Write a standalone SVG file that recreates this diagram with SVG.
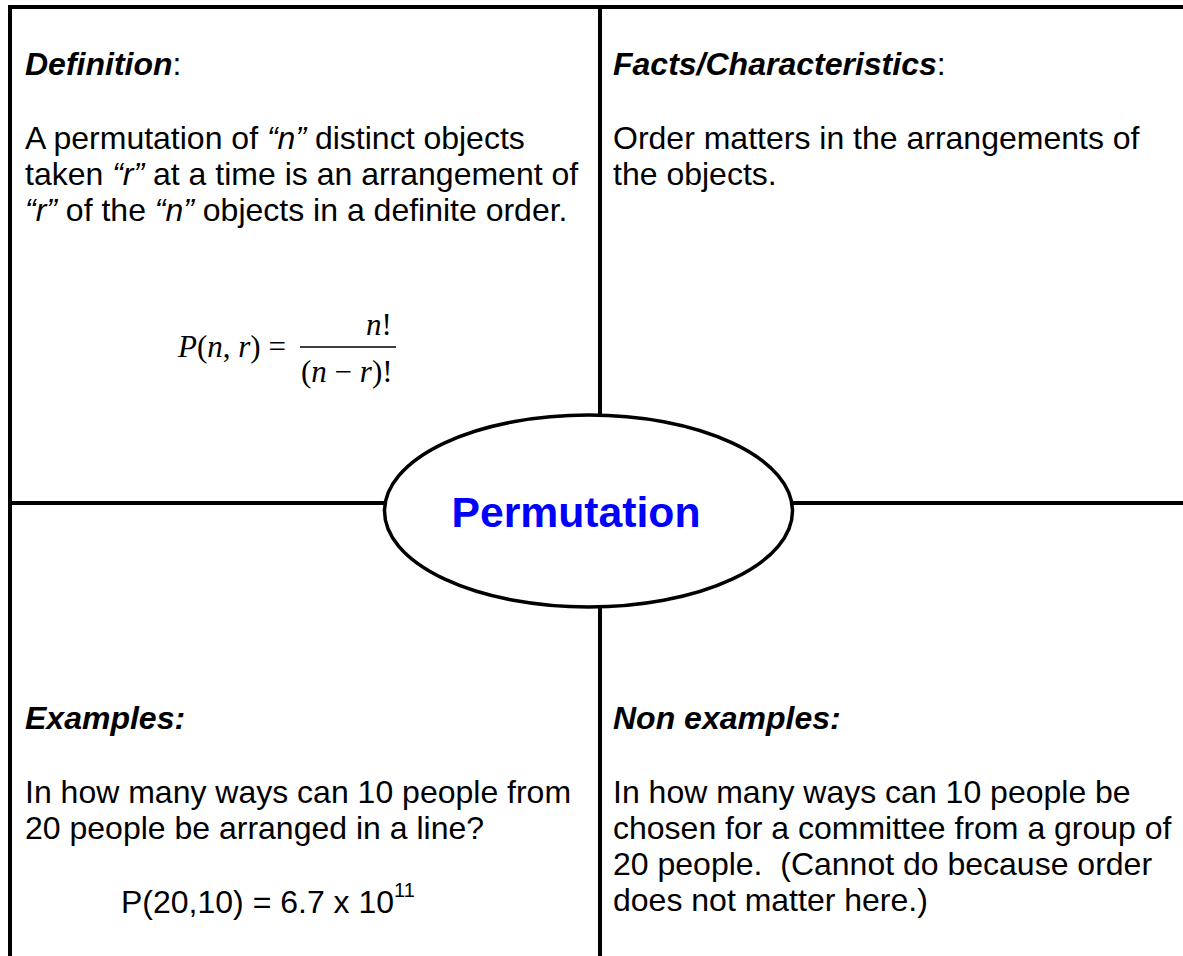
<svg xmlns="http://www.w3.org/2000/svg" width="1183" height="956" viewBox="0 0 1183 956">
  <style>
    .ln { stroke: #000; stroke-width: 4; fill: none; }
    .t { font-family: "Liberation Sans", Arial, sans-serif; font-size: 32px; fill: #000; }
    .h { font-weight: bold; font-style: italic; }
    .i { font-style: italic; }
    .m { font-family: "Liberation Serif", "Times New Roman", serif; font-size: 31px; fill: #000; }
  </style>
  <rect width="1183" height="956" fill="#fff"/>
  <g id="connectors">
    <line class="ln" x1="8" y1="7" x2="1183" y2="7"/>
    <line class="ln" x1="10" y1="5" x2="10" y2="956"/>
    <line class="ln" x1="600" y1="7" x2="600" y2="416"/>
    <line class="ln" x1="600" y1="606" x2="600" y2="956"/>
    <line class="ln" x1="10" y1="503" x2="386" y2="503"/>
    <line class="ln" x1="791" y1="503" x2="1183" y2="503"/>
  </g>
  <g id="definition">
    <text class="t" x="25" y="75"><tspan class="h">Definition</tspan>:</text>
    <text class="t" x="25" y="149">A permutation of <tspan class="i">“n”</tspan> distinct objects</text>
    <text class="t" x="25" y="185">taken <tspan class="i">“r”</tspan> at a time is an arrangement of</text>
    <text class="t" x="25" y="221"><tspan class="i">“r”</tspan> of the <tspan class="i">“n”</tspan> objects in a definite order.</text>
    <text class="m" x="178" y="357"><tspan class="i">P</tspan>(<tspan class="i">n</tspan>, <tspan class="i">r</tspan>) =</text>
    <text class="m" x="366" y="335"><tspan class="i">n</tspan>!</text>
    <line x1="300" y1="347" x2="396" y2="347" stroke="#000" stroke-width="1.5"/>
    <text class="m" x="301" y="382">(<tspan class="i">n</tspan> − <tspan class="i">r</tspan>)!</text>
  </g>
  <g id="facts">
    <text class="t" x="613" y="75"><tspan class="h">Facts/Characteristics</tspan>:</text>
    <text class="t" x="613" y="149">Order matters in the arrangements of</text>
    <text class="t" x="613" y="185">the objects.</text>
  </g>
  <g id="center">
    <ellipse cx="588.5" cy="511" rx="204" ry="96" fill="#fff" stroke="#000" stroke-width="3.5"/>
    <text x="576" y="527" text-anchor="middle" font-family="Liberation Sans, Arial, sans-serif" font-size="42.7" font-weight="bold" fill="#0000FF">Permutation</text>
  </g>
  <g id="examples">
    <text class="t h" x="25" y="729">Examples:</text>
    <text class="t" x="25" y="803">In how many ways can 10 people from</text>
    <text class="t" x="25" y="839">20 people be arranged in a line?</text>
    <text class="t" x="121" y="913">P(20,10) = 6.7 x 10<tspan font-size="20" dy="-16">11</tspan></text>
  </g>
  <g id="nonexamples">
    <text class="t h" x="613" y="729">Non examples:</text>
    <text class="t" x="613" y="803">In how many ways can 10 people be</text>
    <text class="t" x="613" y="839">chosen for a committee from a group of</text>
    <text class="t" x="613" y="875">20 people.&#160; (Cannot do because order</text>
    <text class="t" x="613" y="911">does not matter here.)</text>
  </g>
</svg>
